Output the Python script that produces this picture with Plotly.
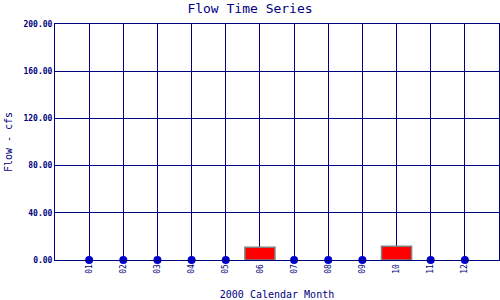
import plotly.graph_objects as go

months = [1, 2, 3, 4, 5, 6, 7, 8, 9, 10, 11, 12]
month_labels = ["01", "02", "03", "04", "05", "06", "07", "08", "09", "10", "11", "12"]
flow = [0, 0, 0, 0, 0, 10.8, 0, 0, 0, 11.6, 0, 0]
y_ticks = [0, 40, 80, 120, 160, 200]
y_tick_labels = ["0.00", "40.00", "80.00", "120.00", "160.00", "200.00"]

bar_x = [m for m, v in zip(months, flow) if v > 0]
bar_y = [v for v in flow if v > 0]
dot_x = [m for m, v in zip(months, flow) if v == 0]
dot_y = [v for v in flow if v == 0]

navy = "#000080"
font = "DejaVu Sans Mono"

fig = go.Figure()
fig.add_trace(go.Bar(x=bar_x, y=bar_y, width=0.88,
                     marker=dict(color="#FF0000", line=dict(color="#808080", width=1.5))))
fig.add_trace(go.Scatter(x=dot_x, y=dot_y, mode="markers", cliponaxis=False,
                         marker=dict(color="#0000CC", size=8)))

fig.update_layout(
    width=500, height=300,
    margin=dict(l=55, r=1, t=24, b=40),
    plot_bgcolor="white", paper_bgcolor="white",
    showlegend=False,
    title=dict(text="Flow Time Series", x=0.5, xanchor="center", y=0.973, yanchor="middle",
               font=dict(family=font, size=13, color=navy)),
    xaxis=dict(range=[0, 13], tickvals=months, ticktext=month_labels, tickangle=-90,
               showgrid=True, gridcolor=navy, gridwidth=1, showline=True, mirror=True,
               linecolor=navy, linewidth=1, zeroline=False, ticks="",
               tickfont=dict(family=font, size=8, color=navy),
               title=dict(text="2000 Calendar Month", standoff=18,
                          font=dict(family=font, size=10, color=navy))),
    yaxis=dict(range=[0, 200], tickvals=y_ticks, ticktext=["<b>%s</b>" % t for t in y_tick_labels],
               showgrid=True, gridcolor=navy, gridwidth=1, showline=True, mirror=True,
               linecolor=navy, linewidth=1, zeroline=False, ticks="",
               tickfont=dict(family=font, size=8, color=navy),
               title=dict(text="Flow - cfs", standoff=8,
                          font=dict(family=font, size=10, color=navy))),
)

fig.write_html("out.html")
